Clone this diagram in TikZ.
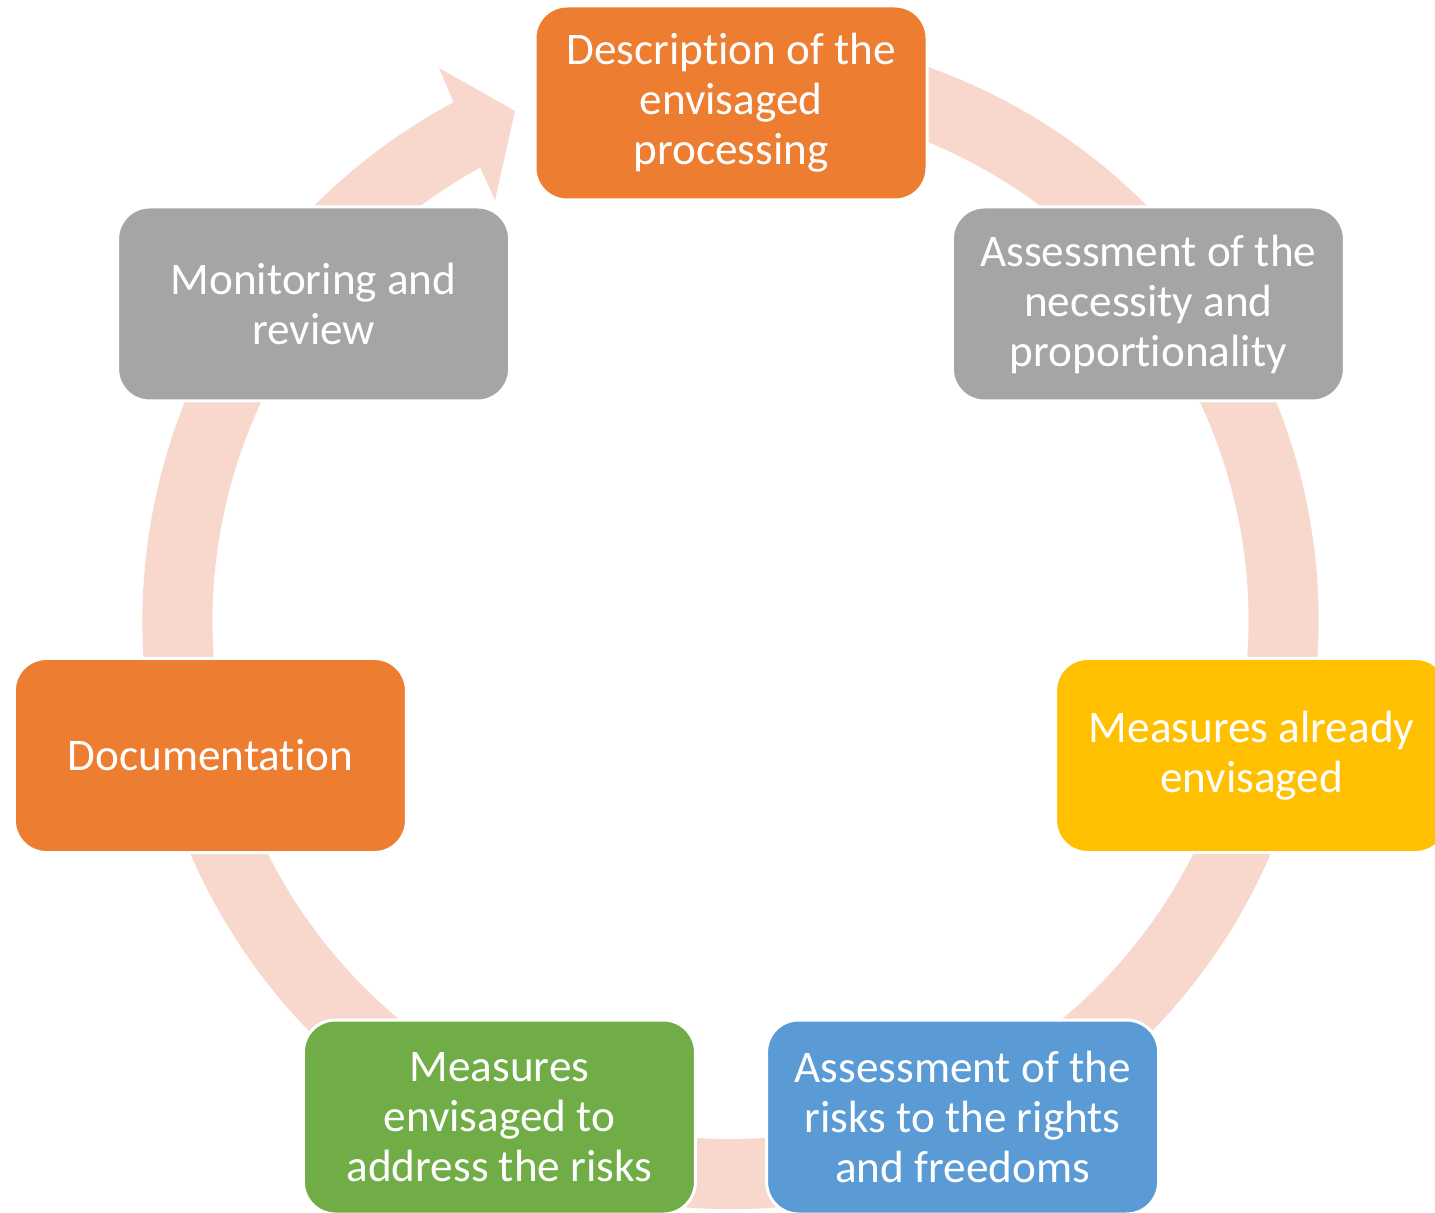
\documentclass[tikz,border=0pt]{standalone}
\usepackage{fontspec}
\setmainfont{Carlito}[Ligatures=NoCommon]
\usetikzlibrary{calc}
\definecolor{cOrange}{HTML}{ED7D31}
\definecolor{cGray}{HTML}{A5A5A5}
\definecolor{cYellow}{HTML}{FFC000}
\definecolor{cBlue}{HTML}{5B9BD5}
\definecolor{cGreen}{HTML}{70AD47}
\definecolor{cRing}{HTML}{F8D7CD}
\begin{document}
\begin{tikzpicture}[x=0.5pt,y=-0.5pt,
  stage/.style={draw=white, line width=1.5pt, rounded corners=16pt,
    minimum width=196pt, minimum height=97pt, inner sep=0pt,
    align=center, text=white, font=\fontsize{22.6pt}{25pt}\selectfont}]
\useasboundingbox (0,0) rectangle (1435,1213);
\fill[white] (0,0) rectangle (1435,1213);
\coordinate (C) at (730.5,621);
% cycle ring with arrowhead
\fill[cRing] ($(C)+(-80:588)$) arc[start angle=-80,end angle=241.9,radius=588]
  -- (439,68) -- (515,111) -- (495,200)
  -- ($(C)+(241.1:518)$) arc[start angle=241.1,end angle=-80,radius=518] -- cycle;
% stages
\node[stage, fill=cOrange] (n1) at (731,103) {Description of the\\envisaged\\processing};
\node[stage, fill=cGray] (n2) at (1148.4,304) {Assessment of the\\necessity and\\proportionality};
\node[stage, fill=cYellow] (n3) at (1251.6,755.5) {Measures already\\envisaged};
\node[stage, fill=cBlue] (n4) at (962.6,1117) {Assessment of the\\risks to the rights\\and freedoms};
\node[stage, fill=cGreen] (n5) at (499.4,1117) {Measures\\envisaged to\\address the risks};
\node[stage, fill=cOrange] (n6) at (210.4,755.5) {Documentation};
\node[stage, fill=cGray] (n7) at (313.6,304) {Monitoring and\\review};
\end{tikzpicture}
\end{document}
